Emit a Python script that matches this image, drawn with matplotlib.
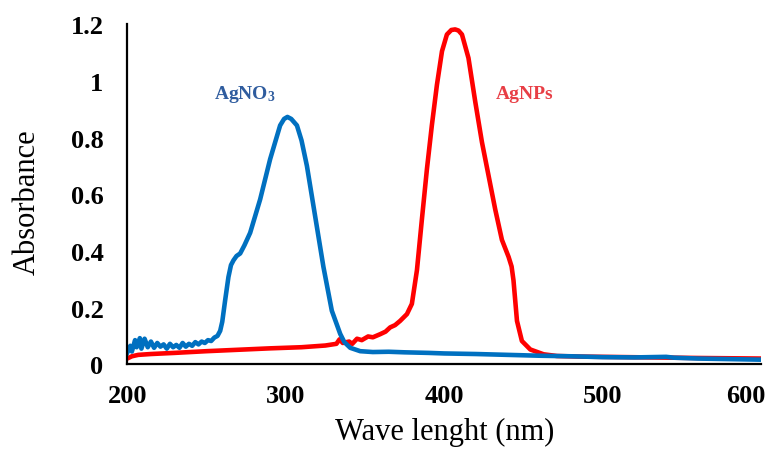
'''
UV-Vis absorbance spectra of AgNO3 and AgNPs.
'''
import matplotlib
matplotlib.use('Agg')
import matplotlib.pyplot as plt
import matplotlib.transforms as mtransforms
from matplotlib.ticker import FuncFormatter

# AgNO3 spectrum (wavelength nm, absorbance)
agno3_nm = [200, 202, 203, 205, 206, 208, 209, 211, 213, 215, 217, 219, 221, 223,
            225, 227, 229, 231, 233, 235, 237, 239, 241, 243, 245, 247, 249, 251,
            253, 255, 257, 258.7, 260, 261.8, 263.9, 265.5, 267.1, 269, 271.3, 274,
            277.6, 283.9, 290.2, 296.5, 299, 301.1, 303.5, 307.1, 310, 313.4, 318.6,
            323.8, 329.1, 334.4, 337, 340.7, 347, 355, 365, 375, 390, 400, 420, 440,
            460, 480, 500, 520, 540, 545, 560, 580, 600]
agno3_abs = [0.040, 0.065, 0.045, 0.085, 0.060, 0.092, 0.055, 0.090, 0.060, 0.080,
             0.058, 0.075, 0.062, 0.070, 0.055, 0.072, 0.060, 0.068, 0.058, 0.075,
             0.062, 0.072, 0.065, 0.078, 0.070, 0.080, 0.075, 0.085, 0.082, 0.094,
             0.100, 0.118, 0.150, 0.225, 0.308, 0.350, 0.367, 0.382, 0.391, 0.420,
             0.464, 0.582, 0.724, 0.843, 0.866, 0.873, 0.866, 0.843, 0.790, 0.700,
             0.522, 0.344, 0.189, 0.107, 0.078, 0.058, 0.046, 0.043, 0.044, 0.042,
             0.040, 0.038, 0.036, 0.033, 0.030, 0.028, 0.025, 0.024, 0.026, 0.023,
             0.020, 0.018, 0.016]

# AgNPs spectrum (wavelength nm, absorbance)
agnps_nm = [200, 203, 207, 215, 230, 250, 270, 290, 310, 325, 332, 334, 336, 340,
            342, 345, 348, 352, 355, 359.6, 363, 365.9, 369, 372.2, 376.5, 379.6,
            382.8, 385.9, 389.1, 392.2, 395.4, 398.6, 401.7, 404.5, 406.9, 409,
            411.2, 415.3, 419.6, 423.8, 428.0, 432.2, 436.4, 440.6, 442.5, 443.7,
            445.9, 449.0, 454.3, 462.7, 471.1, 485, 500, 530, 560, 600]
agnps_abs = [0.020, 0.028, 0.033, 0.036, 0.040, 0.046, 0.051, 0.056, 0.060, 0.066,
             0.072, 0.088, 0.075, 0.080, 0.072, 0.090, 0.085, 0.098, 0.095, 0.106,
             0.115, 0.130, 0.138, 0.153, 0.177, 0.213, 0.332, 0.510, 0.689, 0.843,
             0.986, 1.105, 1.164, 1.180, 1.182, 1.178, 1.164, 1.081, 0.926, 0.784,
             0.665, 0.546, 0.439, 0.379, 0.345, 0.296, 0.153, 0.082, 0.052, 0.035,
             0.029, 0.027, 0.026, 0.024, 0.022, 0.020]

x_ticks = [200, 300, 400, 500, 600]
y_ticks = [0, 0.2, 0.4, 0.6, 0.8, 1.0, 1.2]

plt.rcParams['font.family'] = ['Liberation Serif', 'DejaVu Serif']
plt.rcParams['mathtext.fontset'] = 'custom'
plt.rcParams['mathtext.rm'] = 'Liberation Serif'
plt.rcParams['mathtext.bf'] = 'Liberation Serif:bold'

fig = plt.figure(figsize=(7.8, 4.52), dpi=100)
ax = fig.add_axes([0.163, 0.192, 0.813, 0.752])

# red under blue
ax.plot(agnps_nm, agnps_abs, color='#FF0000', linewidth=3.3, solid_joinstyle='round')
ax.plot(agno3_nm, agno3_abs, color='#0070C0', linewidth=3.3, solid_joinstyle='round')

ax.set_xlim(200, 600)
ax.set_ylim(0, 1.2)
ax.set_xticks(x_ticks)
ax.set_yticks(y_ticks)
ax.yaxis.set_major_formatter(FuncFormatter(lambda v, p: '%g' % v))
ax.tick_params(length=0, labelsize=19)
ax.tick_params(axis='x', pad=14)
ax.tick_params(axis='y', pad=17)
for lab in ax.get_xticklabels() + ax.get_yticklabels():
    lab.set_fontweight('bold')
# last x label sits a bit inside the figure
last = ax.get_xticklabels()[-1]
last.set_transform(last.get_transform() + mtransforms.ScaledTranslation(-0.15, 0, fig.dpi_scale_trans))

for side in ['top', 'right']:
    ax.spines[side].set_visible(False)
for side in ['left', 'bottom']:
    ax.spines[side].set_linewidth(1.6)
    ax.spines[side].set_color('black')

ax.set_xlabel('Wave lenght (nm)', fontsize=22)
ax.set_ylabel('Absorbance', fontsize=22)
ax.xaxis.set_label_coords(0.5, -0.197)
ax.xaxis.label.set_va('center')
ax.yaxis.set_label_coords(-0.158, 0.48)
ax.yaxis.label.set_va('center')

ax.text(274.4, 0.956, r'$\mathbf{AgNO_3}$', color='#2F5C9E', fontsize=14,
        ha='center', va='center')
ax.text(451, 0.956, 'AgNPs', color='#E83E45', fontsize=14, fontweight='bold',
        ha='center', va='center')

fig.savefig('out.png', dpi=100)
